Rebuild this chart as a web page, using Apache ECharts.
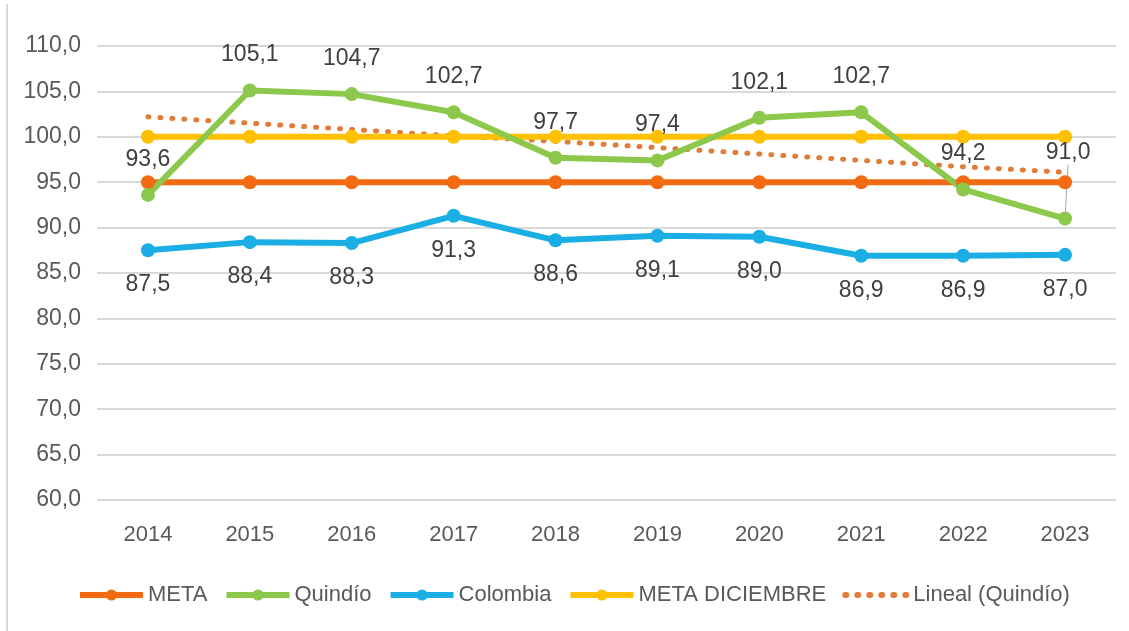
<!DOCTYPE html>
<html lang="es">

<head>
    <meta charset="UTF-8">
    <title>Quindío vs Colombia</title>
    <script src="https://cdn.jsdelivr.net/npm/echarts@6/dist/echarts.min.js"></script>
    <style>
        * {
            margin: 0;
            padding: 0
        }

        html,
        body {
            width: 100%;
            height: 100%;
            background: #fff;
        }

        #main {
            position: absolute;
            left: 0;
            top: 0;
            width: 1129px;
            height: 631px;
        }

        #edge {
            position: absolute;
            left: 6px;
            top: 4px;
            width: 2px;
            height: 627px;
            background: #d9d9d9;
        }
    </style>
</head>

<body>
    <div id="edge"></div>
    <div id="main"></div>
    <script type="text/javascript">
        var years = ['2014', '2015', '2016', '2017', '2018', '2019', '2020', '2021', '2022', '2023'];
        var meta = [95, 95, 95, 95, 95, 95, 95, 95, 95, 95];
        var quindio = [93.6, 105.1, 104.7, 102.7, 97.7, 97.4, 102.1, 102.7, 94.2, 91.0];
        var colombia = [87.5, 88.4, 88.3, 91.3, 88.6, 89.1, 89.0, 86.9, 86.9, 87.0];
        var metaDiciembre = [100, 100, 100, 100, 100, 100, 100, 100, 100, 100];
        // linea de tendencia
        var lineal = [102.2, 101.5, 100.8, 100.1, 99.5, 98.8, 98.1, 97.4, 96.7, 96.1];

        var FONT = 'Liberation Sans';

        var fmt = function (v) {
            return Number(v).toFixed(1).replace('.', ',');
        };

        var myChart = echarts.init(document.getElementById('main'));

        var labelStyle = {
            show: true,
            fontSize: 23,
            color: '#404040',
            fontFamily: FONT,
            formatter: function (p) { return fmt(p.value); }
        };

        // solo la etiqueta de 2023 lleva guia gris
        var quindioData = quindio.map(function (v, i) {
            if (i === 9) {
                return {
                    value: v,
                    labelLine: { show: true, length2: 0, lineStyle: { color: '#a6a6a6', width: 1 } }
                };
            }
            return v;
        });

        var option = {
            animation: false,
            textStyle: { fontFamily: FONT },
            grid: {
                left: 97,
                right: 13,
                top: 46,
                bottom: 131
            },
            legend: {
                bottom: 20,
                left: 72,
                itemWidth: 63,
                itemHeight: 14,
                itemGap: 16,
                lineStyle: { width: 6 },
                textStyle: { fontSize: 22, color: '#595959' },
                data: ['META', 'Quindío', 'Colombia', 'META DICIEMBRE',
                    { name: 'Lineal (Quindío)', itemStyle: { opacity: 0 } }]
            },
            xAxis: {
                type: 'category',
                data: years,
                boundaryGap: true,
                axisLine: { show: false },
                axisTick: { show: false },
                axisLabel: { fontSize: 22, color: '#595959', margin: 24 }
            },
            yAxis: {
                type: 'value',
                min: 60,
                max: 110,
                interval: 5,
                axisLine: { show: false },
                axisTick: { show: false },
                axisLabel: {
                    fontSize: 23,
                    color: '#595959',
                    margin: 16,
                    formatter: fmt
                },
                splitLine: { lineStyle: { color: '#d9d9d9', width: 2 } }
            },
            series: [
                {
                    name: 'Lineal (Quindío)',
                    type: 'line',
                    data: lineal,
                    symbol: 'none',
                    z: 1,
                    lineStyle: { color: '#e07b39', width: 5, type: [1, 11], cap: 'round' },
                    itemStyle: { color: '#e07b39' }
                },
                {
                    name: 'META',
                    type: 'line',
                    data: meta,
                    symbol: 'circle',
                    symbolSize: 14,
                    lineStyle: { color: '#f26b12', width: 6 },
                    itemStyle: { color: '#f26b12' }
                },
                {
                    name: 'META DICIEMBRE',
                    type: 'line',
                    data: metaDiciembre,
                    symbol: 'circle',
                    symbolSize: 14,
                    lineStyle: { color: '#ffc000', width: 6 },
                    itemStyle: { color: '#ffc000' }
                },
                {
                    name: 'Quindío',
                    type: 'line',
                    data: quindioData,
                    symbol: 'circle',
                    symbolSize: 14,
                    z: 3,
                    lineStyle: { color: '#8cc84b', width: 6 },
                    itemStyle: { color: '#8cc84b' },
                    label: Object.assign({}, labelStyle, { position: 'top', distance: 17 }),
                    labelLine: { show: false },
                    labelLayout: function (params) {
                        if (params.dataIndex === 9) {
                            return { dy: -30, dx: 3 };
                        }
                    }
                },
                {
                    name: 'Colombia',
                    type: 'line',
                    data: colombia,
                    symbol: 'circle',
                    symbolSize: 14,
                    lineStyle: { color: '#1aaee5', width: 6 },
                    itemStyle: { color: '#1aaee5' },
                    label: Object.assign({}, labelStyle, { position: 'bottom', distance: 16 })
                }
            ]
        };

        myChart.setOption(option);
    </script>
</body>

</html>
